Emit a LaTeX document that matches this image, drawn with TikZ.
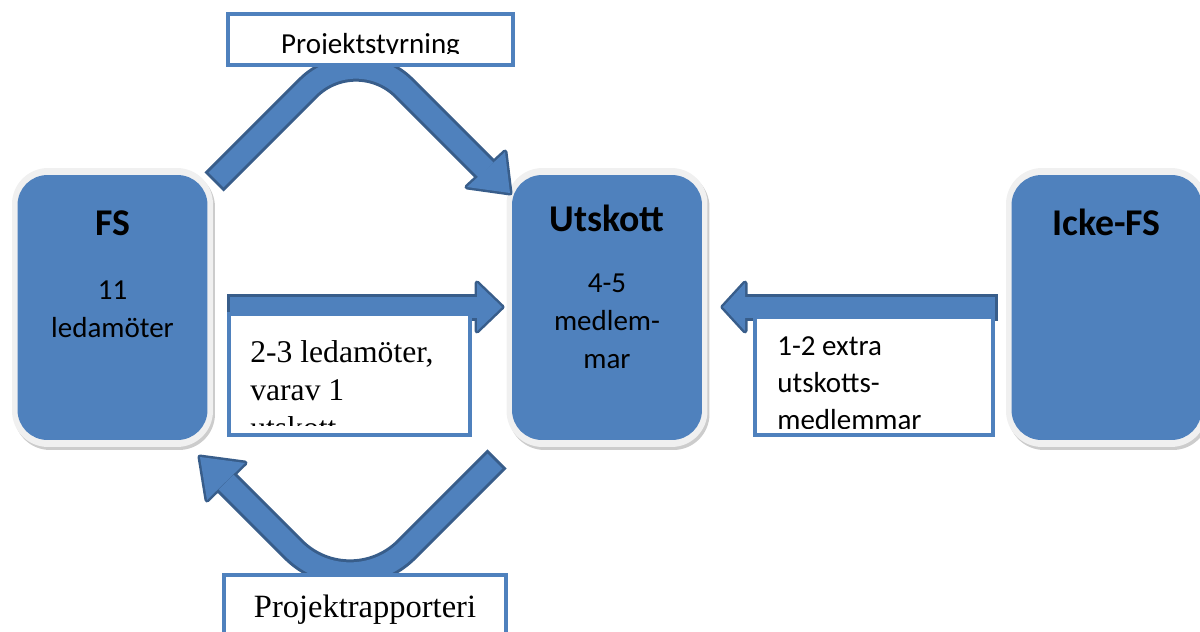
\documentclass[tikz,border=0pt]{standalone}
\usepackage{fontspec}
\setmainfont{Carlito}
\newfontfamily\seriffont{Liberation Serif}
\usetikzlibrary{shadows}
\definecolor{boxblue}{HTML}{4F81BD}
\definecolor{edgeblue}{HTML}{385D8A}
\begin{document}
\begin{tikzpicture}[x=0.02cm,y=-0.02cm,
  rim/.style={fill=black!6, rounded corners=0.72cm, minimum width=4.02cm, minimum height=5.58cm,
    drop shadow={shadow xshift=0.04cm, shadow yshift=-0.06cm, fill=black!40}},
  block/.style={fill=boxblue, rounded corners=0.6cm, minimum width=3.8cm, minimum height=5.3cm},
  title/.style={font=\bfseries\fontsize{21.5}{25}\selectfont, anchor=base, inner sep=0pt},
  body/.style={font=\fontsize{16.5}{21.6}\selectfont, align=center, anchor=base, inner sep=0pt},
  tbox/.style={draw=boxblue, line width=0.08cm, fill=white, inner sep=0pt},
  shaftout/.style={draw=edgeblue, line width=0.54cm},
  shaftin/.style={draw=boxblue, line width=0.42cm},
  headout/.style={fill=edgeblue, draw=edgeblue, line width=0.1cm, line join=round}]
	\useasboundingbox (0,0) rectangle (1200,632);
	\clip (0,0) rectangle (1200,632);

	% the three groups
	\node[rim] (fsrim) at (112.5,307.5) {};
	\node[block] (fs) at (112.5,307.5) {};
	\node[rim] (utrim) at (607,307.5) {};
	\node[block] (ut) at (607,307.5) {};
	\node[rim] (ickerim) at (1106.5,307.5) {};
	\node[block] (icke) at (1106.5,307.5) {};

	\node[title] (fstitle) at (112.5,235) {FS};
	\node[body] (fsbody) at (112.5,337) {11\\ledamöter};
	\node[title] (uttitle) at (607,231) {Utskott};
	\node[body] (utbody) at (607,368) {4-5\\medlem-\\mar};
	\node[title] (icketitle) at (1106.5,235) {Icke-FS};

	\coordinate (tstart) at (214,182);
	\coordinate (tbend) at (356,40);
	\coordinate (tbase) at (486,170);
	\coordinate (ttip) at (510,193);
	\coordinate (twingA) at (505,152);
	\coordinate (twingB) at (467,187);

	\coordinate (bstart) at (497,459);
	\coordinate (bbend) at (350,606);
	\coordinate (bbase) at (226,482);
	\coordinate (btip) at (200,457);
	\coordinate (bwingA) at (245,463);
	\coordinate (bwingB) at (207,500);

	\coordinate (lstart) at (227,307);
	\coordinate (lbase) at (477,307);
	\coordinate (ltip) at (502,307);
	\coordinate (lwingA) at (477,283);
	\coordinate (lwingB) at (477,331);

	\coordinate (rstart) at (998,307);
	\coordinate (rbase) at (745,307);
	\coordinate (rtip) at (723,307);
	\coordinate (rwingA) at (745,283);
	\coordinate (rwingB) at (745,331);

	% arrows: dark pass, then blue pass
	\draw[shaftout, rounded corners=1.36cm] (tstart) -- (tbend) -- (tbase);
	\draw[shaftout, rounded corners=1.6cm] (bstart) -- (bbend) -- (bbase);
	\draw[shaftout] (lstart) -- (lbase);
	\draw[shaftout] (rstart) -- (rbase);
	\draw[headout] (twingA) -- (ttip) -- (twingB) -- cycle;
	\draw[headout] (bwingA) -- (btip) -- (bwingB) -- cycle;
	\draw[headout] (lwingA) -- (ltip) -- (lwingB) -- cycle;
	\draw[headout] (rwingA) -- (rtip) -- (rwingB) -- cycle;
	\draw[shaftin, rounded corners=1.36cm, shorten <=0.06cm] (tstart) -- (tbend) -- (tbase);
	\draw[shaftin, rounded corners=1.6cm, shorten <=0.06cm] (bstart) -- (bbend) -- (bbase);
	\draw[shaftin, shorten <=0.06cm] (lstart) -- (lbase);
	\draw[shaftin, shorten <=0.06cm] (rstart) -- (rbase);
	\fill[boxblue] (twingA) -- (ttip) -- (twingB) -- cycle;
	\fill[boxblue] (bwingA) -- (btip) -- (bwingB) -- cycle;
	\fill[boxblue] (lwingA) -- (ltip) -- (lwingB) -- cycle;
	\fill[boxblue] (rwingA) -- (rtip) -- (rwingB) -- cycle;

	% labels
	\node[tbox, minimum width=5.7cm, minimum height=1.02cm] (styr) at (370.5,39.5) {};
	\begin{scope}
		\clip (228,14) rectangle (513,53);
		\node[body] (styrtext) at (370.5,53) {Projektstyrning};
	\end{scope}

	\node[tbox, minimum width=5.64cm, minimum height=1.5cm] (rapp) at (365,612.5) {};
	\node[font=\seriffont\fontsize{18.5}{22}\selectfont, anchor=base, inner sep=0pt] (rapptext) at (365,617) {Projektrapporteri};

	\node[tbox, minimum width=4.82cm, minimum height=2.42cm] (ledbox) at (349.5,374.5) {};
	\begin{scope}
		\clip (229,314) rectangle (470,425);
		\node[font=\seriffont\fontsize{18}{21.6}\selectfont, align=left, anchor=base west, inner sep=0pt] (ledtext) at (250,438) {2-3 ledamöter,\\varav 1\\utskott};
	\end{scope}

	\node[tbox, minimum width=4.76cm, minimum height=2.36cm] (extrabox) at (874,376) {};
	\begin{scope}
		\clip (755,317) rectangle (993,428);
		\node[font=\fontsize{16.5}{20.8}\selectfont, align=left, anchor=base west, inner sep=0pt] (extratext) at (777,429) {1-2 extra\\utskotts-\\medlemmar};
	\end{scope}
\end{tikzpicture}
\end{document}
